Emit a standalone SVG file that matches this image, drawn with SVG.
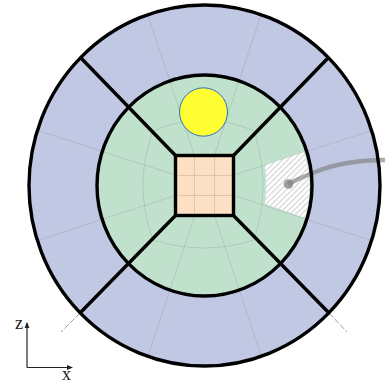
<svg xmlns="http://www.w3.org/2000/svg" width="385" height="386" viewBox="0 0 385 386">
<style>
.b{stroke:#000;stroke-width:3.4;fill:none}
.g{stroke:#8a8a8a;stroke-opacity:.28;stroke-width:1;fill:none}
.t{font-family:"Liberation Serif",serif;font-size:18px;fill:#222}
.a{stroke:#222;stroke-width:1.2;fill:none}
.d{stroke:#a0a0a0;stroke-width:1;stroke-dasharray:6 2;fill:none}
</style>
<defs>
<pattern id="h" width="4" height="4" patternUnits="userSpaceOnUse" patternTransform="rotate(45)">
<rect width="4" height="4" fill="#fff"/><rect width="1.2" height="4" fill="#d4d4d4"/>
</pattern>
<marker id="ar" viewBox="0 0 6 6" refX="5" refY="3" markerWidth="6" markerHeight="6" orient="auto" markerUnits="userSpaceOnUse"><path d="M0 0.6L6 3L0 5.4z" fill="#222"/></marker>
</defs>
<g id="outer"><ellipse cx="204.5" cy="185.5" rx="175.5" ry="180.5" fill="#c0c8e4"/></g>
<g id="inner"><ellipse cx="204.5" cy="185.5" rx="107.5" ry="110.5" fill="#c0e2cd"/></g>
<g id="core"><rect x="175.5" y="155.5" width="58" height="60" fill="#fde0c4"/></g>
<g id="grid">
<path class="g" d="M194.5 155L147 12M214.5 155L262 12M194.5 215.500L147 359M214.500 215.500L262 359M175.500 175L36 130M175.500 195.500L36 241M233.500 175L373 130M233.500 195.500L373 241"/>
<path class="g" d="M194.500 155.500V215.500M214.500 155.500V215.500M175.500 175.500H233.500M175.500 195.500H233.500"/>
<path class="g" d="M153 131Q203.500 109 254 131Q272 185.500 254 240Q203.500 256 153 240Q133 185.500 153 131z"/>
</g>
<g id="hatch"><path d="M265 165L304 152A107.500 110.500 0 0 1 305 218L265 204Q267 185 265 165z" fill="url(#h)"/></g>
<g id="probe"><path d="M288 184Q300 178 315 172Q345 160 385 160" fill="none" stroke="#808080" stroke-opacity=".65" stroke-width="4.500"/><circle cx="288.500" cy="184" r="4.800" fill="#808080" fill-opacity=".75"/></g>
<g id="connectors">
<path class="d" d="M80 313L61 332M329 313L347 332"/>
<path class="b" d="M175.500 155.500L80 57M233.500 155.500L329 57M175.500 215.500L80 313M233.500 215.500L329 313"/>
</g>
<g id="rings">
<ellipse class="b" cx="204.500" cy="185.500" rx="175.500" ry="180.500"/>
<ellipse class="b" cx="204.500" cy="185.500" rx="107.500" ry="110.500"/>
<rect class="b" x="175.500" y="155.500" width="58" height="60"/>
</g>
<g id="sun"><ellipse cx="203.500" cy="112" rx="24" ry="24.200" fill="#ffff33" stroke="#2f6fc0" stroke-width="1"/></g>
<g id="axes">
<path class="a" d="M27 367.500V323" marker-end="url(#ar)"/>
<path class="a" d="M27 367.500H72" marker-end="url(#ar)"/>
<text class="t" x="15" y="329">z</text>
<text class="t" x="62" y="380">x</text>
</g>
</svg>
